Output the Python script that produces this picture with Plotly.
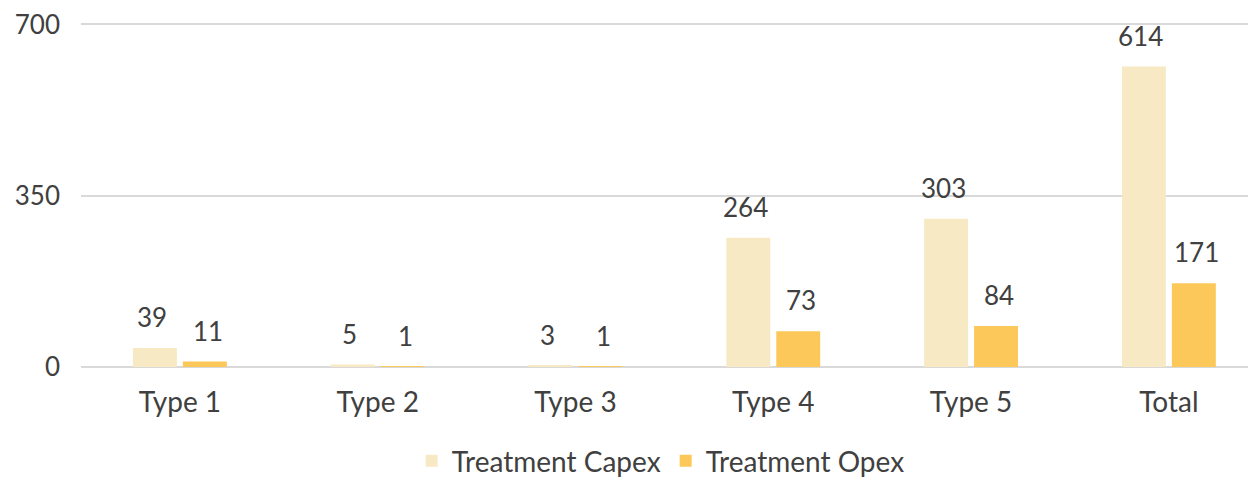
import plotly.graph_objects as go

categories = ["Type 1", "Type 2", "Type 3", "Type 4", "Type 5", "Total"]
capex = [39, 5, 3, 264, 303, 614]
opex = [11, 1, 1, 73, 84, 171]

font_family = "Lato, 'Open Sans', sans-serif"
text_color = "#404040"

fig = go.Figure()
fig.add_trace(go.Bar(
    x=categories, y=capex, name="Treatment Capex",
    marker=dict(color="#F7E9C3", line=dict(width=0)),
))
fig.add_trace(go.Bar(
    x=categories, y=opex, name="Treatment Opex",
    marker=dict(color="#FCC85A", line=dict(width=0)),
))

annotations = []
for series, shift in ((capex, -28), (opex, 28)):
    for c, v in zip(categories, series):
        annotations.append(dict(
            x=c, y=v, xref="x", yref="y", text=str(v), showarrow=False,
            xanchor="center", yanchor="bottom", xshift=shift, yshift=13,
            font=dict(size=26, color=text_color, family=font_family),
        ))

fig.update_layout(
    width=1256, height=478,
    margin=dict(l=73, r=0, t=13, b=118),
    paper_bgcolor="white", plot_bgcolor="white",
    barmode="group", bargap=0.495, bargroupgap=0.12,
    font=dict(family=font_family, size=26, color=text_color),
    showlegend=True,
    legend=dict(orientation="h", x=0.49, xanchor="center", y=-0.275, yanchor="middle",
                font=dict(size=28, color=text_color, family=font_family),
                itemwidth=30, tracegroupgap=0),
    xaxis=dict(range=[-0.5, 5.481], showgrid=False, showline=False, ticks="",
               tickfont=dict(size=28, color=text_color), ticklabelstandoff=16),
    yaxis=dict(range=[0, 703], tickvals=[0, 350, 700], showgrid=True,
               gridcolor="#D9D9D9", gridwidth=1.5, zeroline=True,
               zerolinecolor="#D9D9D9", zerolinewidth=1.5, ticks="",
               tickfont=dict(size=26, color=text_color), ticklabelstandoff=20,
               ticklabeloverflow="allow"),
    annotations=annotations,
)

fig.write_html("out.html")
